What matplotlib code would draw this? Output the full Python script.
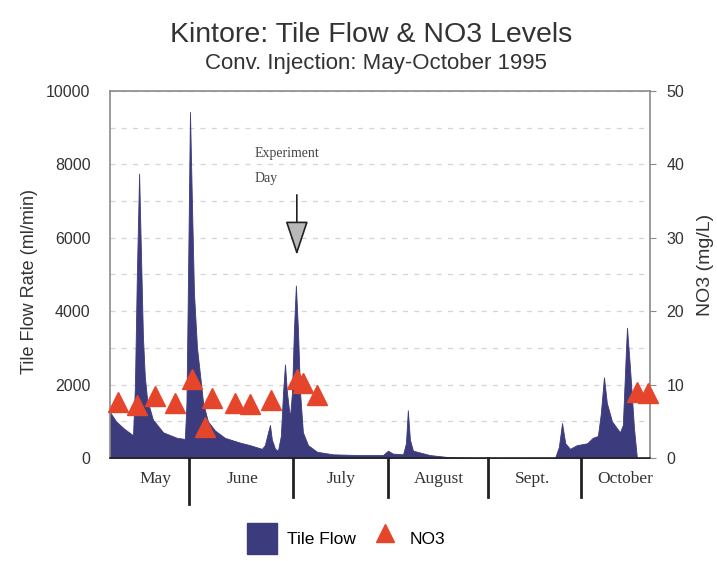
import matplotlib
matplotlib.use("Agg")
import matplotlib.pyplot as plt
from matplotlib.lines import Line2D
from matplotlib.patches import Patch
from matplotlib.transforms import blended_transform_factory

# dias contados a partir de 1 de maio de 1995
flow_day = [6.5, 8.4, 10.9, 12.75, 13.7, 14.3, 14.9, 15.6, 16.2, 16.8, 17.4, 18.1,
            19.9, 23.1, 27.4, 29.9, 30.4, 30.9, 31.5, 32.1, 32.75, 33.7, 34.6, 35.6,
            37.1, 39.3, 42.4, 47.1, 50.25, 54.0, 54.9, 55.9, 56.5, 57.1, 58.1, 59.0,
            59.9, 60.6, 61.2, 61.8, 62.75, 63.4, 64.0, 64.6, 65.25, 65.9, 66.8, 68.4,
            71.2, 76.2, 84.6, 91.8, 93.4, 94.9, 98.1, 99.0, 99.6, 100.25, 101.2,
            106.5, 112.75, 122.1, 145.6, 146.8, 147.8, 148.8, 150.3, 152.4, 155.6,
            157.4, 159.0, 159.9, 160.9, 161.8, 163.4, 165.9, 166.8, 167.8, 168.1,
            169.0, 170.3, 171.2, 175.3]
flow_val = [1250, 1000, 800, 680, 620, 2000, 5000, 7750, 5500, 3300, 2200, 1600,
            1050, 700, 550, 520, 1500, 5000, 9430, 7000, 4500, 3000, 2300, 1500,
            1000, 750, 550, 420, 350, 250, 350, 700, 900, 500, 250, 200,
            600, 1800, 2550, 1800, 1100, 1800, 3500, 4700, 3500, 1800, 700, 350,
            170, 100, 80, 80, 200, 120, 100, 400, 1300, 500, 200,
            80, 20, 0, 0, 300, 950, 400, 250, 350, 400,
            550, 600, 1200, 2200, 1500, 1000, 700, 900, 3000, 3550,
            2500, 800, 0, 0]

no3_day = [9.0, 14.9, 20.6, 26.8, 32.1, 36.2, 38.4, 45.6, 50.3, 56.8, 64.9, 66.8,
           71.2, 171.2, 174.6]
no3_val = [7.6, 7.2, 8.4, 7.5, 10.7, 4.2, 8.2, 7.5, 7.4, 7.9, 10.8, 10.2,
           8.6, 9.0, 8.8]

month_names = ["May", "June", "July", "August", "Sept.", "October"]
month_mid = [20.6, 47.8, 78.7, 109.3, 138.7, 167.4]
month_edges = [31.2, 63.7, 93.4, 124.6, 153.7]

NAVY = "#3c3b7e"
RED = "#e5452b"
TXT = "#333333"
SANS = "Liberation Sans"
SERIF = "Liberation Serif"

fig = plt.figure(figsize=(7.17, 5.61), dpi=100)
ax = fig.add_axes([0.1534, 0.1836, 0.7532, 0.6542])

ax.fill_between(flow_day, flow_val, color=NAVY, lw=0.6, edgecolor=NAVY, zorder=2)
ax.set_xlim(6.5, 175.3)
ax.set_ylim(0, 10000)
ax.set_yticks(range(0, 10001, 2000))
ax.set_yticks(range(1000, 10000, 1000), minor=True)
ax.grid(axis="y", which="both", color="#d4d4d4", ls=(0, (4, 5)), lw=0.9)
ax.set_axisbelow(True)
ax.tick_params(axis="y", which="both", length=0, pad=14, labelsize=11.5, labelcolor=TXT)
for lab in ax.get_yticklabels():
    lab.set_family(SANS)
ax.set_ylabel("Tile Flow Rate (ml/min)", fontsize=13, family=SANS, color=TXT)
ax.yaxis.set_label_coords(-0.133, 0.48)

ax.set_xticks(month_mid, month_names, family=SERIF, fontsize=12.5, color=TXT)
ax.tick_params(axis="x", length=0, pad=9)

for s in ax.spines.values():
    s.set_color("#8a8a8a")
    s.set_linewidth(1.2)
ax.spines["bottom"].set_color("#222222")

# divisorias dos meses
trans = blended_transform_factory(ax.transData, ax.transAxes)
for i, e in enumerate(month_edges):
    lo = -0.125 if i == 0 else -0.105
    ax.plot([e, e], [0, lo], transform=trans, color="#222222", lw=2, clip_on=False)

# seta do dia do experimento
ax.text(51.8, 8200, "Experiment", family=SERIF, fontsize=10, color="#444444", va="baseline")
ax.text(51.8, 7520, "Day", family=SERIF, fontsize=10, color="#444444", va="baseline")
ax.annotate("", xy=(64.9, 5530), xytext=(64.9, 7170),
            arrowprops=dict(arrowstyle="-|>,head_length=1.08,head_width=0.36",
                            fc="#b8b8b8", ec="#222222", lw=1.2, mutation_scale=20,
                            shrinkA=0, shrinkB=0))

ax2 = ax.twinx()
ax2.set_ylim(0, 50)
ax2.set_yticks(range(0, 51, 10))
ax2.plot(no3_day, no3_val, ls="none", marker="^", ms=15, color=RED, mec=RED,
         clip_on=False, zorder=3)
ax2.tick_params(axis="y", length=4, color="#8a8a8a", pad=8, labelsize=11.5, labelcolor=TXT)
for lab in ax2.get_yticklabels():
    lab.set_family(SANS)
ax2.set_ylabel("NO3 (mg/L)", fontsize=14, family=SANS, color=TXT)
ax2.yaxis.set_label_coords(1.087, 0.526)
for s in ax2.spines.values():
    s.set_visible(False)

fig.text(0.518, 0.937, "Kintore: Tile Flow & NO3 Levels", ha="center", va="center",
         family=SANS, fontsize=20.5, color=TXT)
fig.text(0.524, 0.887, "Conv. Injection: May-October 1995", ha="center", va="center",
         family=SANS, fontsize=16, color=TXT)

handles = [Patch(color=NAVY, label="Tile Flow"),
           Line2D([], [], ls="none", marker="^", ms=13, color=RED, label="NO3")]
fig.legend(handles=handles, loc="center", bbox_to_anchor=(0.483, 0.04), ncol=2,
           frameon=False, prop={"family": SANS, "size": 12.5}, handlelength=1.7,
           handleheight=2.4, columnspacing=0.8, handletextpad=0.6)

fig.savefig("out.png", dpi=100)
